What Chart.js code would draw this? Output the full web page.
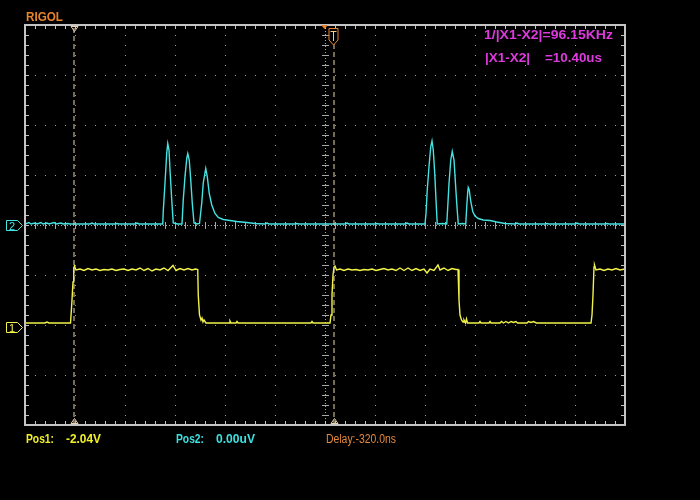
<!DOCTYPE html>
<html>
<head>
<meta charset="utf-8">
<script src="https://cdn.jsdelivr.net/npm/chart.js@4.4.1/dist/chart.umd.min.js"></script>
<style>
  html, body { margin: 0; padding: 0; background: #000; }
  #scope { display: block; }
</style>
</head>
<body>
<canvas id="scope" width="700" height="500"></canvas>
<script>
// horizontal: time in us (2 us/div), vertical: volts (1 V/div)
const timeRange = [-12, 12];
const voltRange = [-4, 4];
const cursorTimes = [-10.04, 0.36];
const triggerTime = 0.32;
const channelOffsets = [-2.04, 0.00];   // CH1, CH2 ground markers

const measureLines = ['1/|X1-X2|=96.15KHz', '|X1-X2|', '=10.40us'];
const statusLabels = ['Pos1:', '-2.04V', 'Pos2:', '0.00uV', 'Delay:-320.0ns'];

// CH1 (yellow) square wave, [time, volts]
const ch1Trace = [
  [-12.00, -1.96], [-11.20, -1.96], [-11.12, -1.94], [-11.04, -1.96], [-10.18, -1.96],
  [-10.15, -1.74], [-10.12, -1.50], [-10.08, -1.14], [-10.05, -0.86], [-10.02, -0.82], [-9.96, -0.90],
  [-9.80, -0.88], [-9.64, -0.91], [-9.48, -0.87], [-9.32, -0.90], [-9.16, -0.88], [-9.00, -0.91],
  [-8.84, -0.89], [-8.68, -0.90], [-8.52, -0.88], [-8.36, -0.91], [-8.20, -0.89], [-8.04, -0.88],
  [-7.88, -0.91], [-7.72, -0.88], [-7.56, -0.90], [-7.40, -0.86], [-7.24, -0.91], [-7.08, -0.87],
  [-6.92, -0.92], [-6.76, -0.88], [-6.60, -0.90], [-6.44, -0.86], [-6.28, -0.91], [-6.08, -0.81],
  [-5.96, -0.91], [-5.80, -0.87], [-5.64, -0.90], [-5.48, -0.87], [-5.32, -0.90], [-5.18, -0.88],
  [-5.09, -0.89], [-5.07, -1.40], [-5.02, -1.80], [-4.96, -1.90], [-4.92, -1.86], [-4.88, -1.94],
  [-4.84, -1.90], [-4.76, -1.96],
  [-3.84, -1.96], [-3.80, -1.92], [-3.76, -1.96], [-3.56, -1.96], [-3.52, -1.93], [-3.48, -1.96],
  [-0.56, -1.96], [-0.52, -1.93], [-0.48, -1.96], [0.20, -1.96],
  [0.24, -1.80], [0.28, -1.40], [0.32, -1.00], [0.36, -0.84], [0.40, -0.82], [0.46, -0.90],
  [0.60, -0.88], [0.76, -0.91], [0.92, -0.88], [1.08, -0.90], [1.24, -0.89], [1.40, -0.91],
  [1.56, -0.89], [1.72, -0.90], [1.88, -0.88], [2.04, -0.91], [2.20, -0.89], [2.36, -0.87],
  [2.52, -0.90], [2.68, -0.88], [2.84, -0.91], [3.00, -0.86], [3.16, -0.91], [3.32, -0.86],
  [3.48, -0.91], [3.64, -0.87], [3.80, -0.91], [3.96, -0.88], [4.08, -0.96], [4.20, -0.88],
  [4.36, -0.91], [4.52, -0.80], [4.60, -0.90], [4.76, -0.86], [4.92, -0.91], [5.08, -0.87],
  [5.24, -0.89], [5.32, -0.89],
  [5.36, -1.50], [5.40, -1.80], [5.46, -1.90], [5.52, -1.94], [5.56, -1.90], [5.62, -1.96],
  [5.66, -1.88], [5.70, -1.96],
  [6.16, -1.96], [6.20, -1.93], [6.24, -1.96], [6.56, -1.96], [6.60, -1.93], [6.64, -1.96],
  [7.00, -1.96], [7.06, -1.93], [7.14, -1.96], [7.24, -1.93], [7.34, -1.96], [7.44, -1.93],
  [7.54, -1.95], [7.64, -1.93], [7.70, -1.96], [8.08, -1.96], [8.14, -1.93], [8.24, -1.95],
  [8.34, -1.93], [8.46, -1.96], [10.64, -1.96],
  [10.68, -1.80], [10.72, -1.40], [10.76, -0.84], [10.78, -0.80], [10.84, -0.90],
  [11.00, -0.88], [11.16, -0.91], [11.32, -0.88], [11.48, -0.90], [11.64, -0.87], [11.80, -0.90],
  [12.00, -0.88]
];

// CH2 (cyan) pulse bursts, [time, volts]
const ch2Trace = [
  [-12.00, 0.02], [-11.84, 0.05], [-11.76, 0.02], [-11.60, 0.04], [-11.52, 0.02], [-11.36, 0.05],
  [-11.28, 0.02], [-11.12, 0.04], [-11.04, 0.02], [-10.84, 0.05], [-10.76, 0.02], [-10.56, 0.04],
  [-10.48, 0.02], [-10.28, 0.03], [-10.20, 0.02], [-9.40, 0.02], [-9.32, 0.04], [-9.24, 0.02],
  [-8.40, 0.02], [-8.32, 0.03], [-8.24, 0.02], [-7.60, 0.02], [-7.52, 0.04], [-7.44, 0.02],
  [-6.49, 0.02],
  [-6.47, 0.27], [-6.40, 0.84], [-6.33, 1.44], [-6.29, 1.63], [-6.24, 1.50], [-6.20, 1.10],
  [-6.13, 0.50], [-6.07, 0.04], [-5.90, 0.02], [-5.72, 0.02],
  [-5.67, 0.50], [-5.60, 0.97], [-5.53, 1.33], [-5.49, 1.43], [-5.43, 1.30], [-5.37, 0.90],
  [-5.31, 0.44], [-5.24, 0.04], [-5.12, 0.02], [-5.02, 0.03],
  [-4.93, 0.44], [-4.87, 0.84], [-4.77, 1.13], [-4.71, 0.97], [-4.63, 0.63], [-4.53, 0.40],
  [-4.40, 0.23], [-4.27, 0.15], [-4.07, 0.11], [-3.80, 0.09], [-3.53, 0.07], [-3.13, 0.05],
  [-2.80, 0.03], [-2.40, 0.02], [-2.32, 0.04], [-2.24, 0.02], [-1.20, 0.02], [-1.12, 0.03],
  [-1.04, 0.02], [0.80, 0.02], [0.88, 0.04], [0.96, 0.02], [2.00, 0.02], [2.08, 0.03],
  [2.16, 0.02], [3.20, 0.02], [3.28, 0.04], [3.36, 0.02], [4.00, 0.02],
  [4.04, 0.23], [4.09, 0.70], [4.16, 1.17], [4.23, 1.57], [4.28, 1.68], [4.33, 1.50],
  [4.39, 1.03], [4.44, 0.50], [4.49, 0.02], [4.70, 0.03], [4.87, 0.02],
  [4.91, 0.37], [4.96, 0.83], [5.03, 1.30], [5.09, 1.47], [5.16, 1.30], [5.21, 0.90],
  [5.27, 0.43], [5.33, 0.02], [5.50, 0.03], [5.63, 0.02],
  [5.67, 0.37], [5.71, 0.67], [5.73, 0.75], [5.77, 0.70], [5.83, 0.47], [5.91, 0.27],
  [6.00, 0.18], [6.13, 0.13], [6.33, 0.10], [6.60, 0.09], [6.87, 0.06], [7.20, 0.03],
  [7.60, 0.02], [7.68, 0.04], [7.76, 0.02], [8.80, 0.02], [8.88, 0.03], [8.96, 0.02],
  [10.00, 0.02], [10.08, 0.04], [10.16, 0.02], [11.20, 0.02], [11.28, 0.03], [11.36, 0.02],
  [12.00, 0.02]
];

const YELLOW = '#f2f24a';
const CYAN = '#45e2e2';
const CURSOR = '#e8d6b0';
const ORANGE = '#e8842c';
const MAGENTA = '#dc3adc';
const FRAME = '#c4c4c4';
const DOTS = '#9c9c9c';

const toPoints = arr => arr.map(p => ({ x: p[0], y: p[1] }));

// stretch/shrink text to the width it has on the scope screen
function fitText(ctx, str, x, baseline, width, font, color) {
  ctx.font = font;
  const w = ctx.measureText(str).width;
  ctx.save();
  ctx.translate(x, baseline);
  ctx.scale(width / w, 1);
  ctx.fillStyle = color;
  ctx.textAlign = 'left';
  ctx.textBaseline = 'alphabetic';
  ctx.fillText(str, 0, 0);
  ctx.restore();
}

const scopeScreen = {
  id: 'scopeScreen',
  beforeDraw(chart) {
    const ctx = chart.ctx;
    ctx.save();
    ctx.fillStyle = '#000';
    ctx.fillRect(0, 0, chart.width, chart.height);
    ctx.restore();
  },
  beforeDatasetsDraw(chart) {
    const { ctx, chartArea: a, scales } = chart;
    const xs = scales.x, ys = scales.y;
    ctx.save();
    ctx.fillStyle = DOTS;
    // dotted graticule, dot every 1/5 division
    for (let t = timeRange[0] + 2; t < timeRange[1]; t += 2) {
      if (t === 0) continue;
      const px = Math.round(xs.getPixelForValue(t));
      for (let y = a.top + 10; y < a.bottom; y += 10) ctx.fillRect(px, y, 1, 1);
    }
    for (let v = voltRange[0] + 1; v < voltRange[1]; v += 1) {
      if (v === 0) continue;
      const py = Math.round(ys.getPixelForValue(v));
      for (let x = a.left + 10; x < a.right; x += 10) ctx.fillRect(x, py, 1, 1);
    }
    // centre axes with minor ticks
    const cx = Math.round(xs.getPixelForValue(0));
    const cy = Math.round(ys.getPixelForValue(0));
    ctx.fillStyle = '#a8a8a8';
    for (let y = a.top; y < a.bottom; y += 3) ctx.fillRect(cx, y, 1, 1);
    for (let x = a.left; x < a.right; x += 3) ctx.fillRect(x, cy, 1, 1);
    for (let y = a.top + 10; y < a.bottom; y += 10) ctx.fillRect(cx - 3, y, 7, 1);
    for (let x = a.left + 10; x < a.right; x += 10) ctx.fillRect(x, cy - 3, 1, 7);
    ctx.restore();
  },
  afterDatasetsDraw(chart) {
    const { ctx, chartArea: a, scales } = chart;
    const xs = scales.x, ys = scales.y;
    ctx.save();
    // frame + border ticks
    ctx.strokeStyle = FRAME;
    ctx.lineWidth = 2;
    ctx.strokeRect(a.left, a.top, a.right - a.left, a.bottom - a.top);
    ctx.fillStyle = FRAME;
    for (let x = a.left + 10; x < a.right; x += 10) {
      ctx.fillRect(x, a.top + 1, 1, 3);
      ctx.fillRect(x, a.bottom - 4, 1, 3);
    }
    for (let y = a.top + 10; y < a.bottom; y += 10) {
      ctx.fillRect(a.left + 1, y, 3, 1);
      ctx.fillRect(a.right - 4, y, 3, 1);
    }

    // cursor markers
    ctx.strokeStyle = CURSOR;
    ctx.lineWidth = 1;
    cursorTimes.forEach((t, i) => {
      const px = Math.round(xs.getPixelForValue(t)) + 0.5;
      if (i === 0) {
        ctx.beginPath();
        ctx.moveTo(px - 3.5, a.top + 1.5);
        ctx.lineTo(px + 3.5, a.top + 1.5);
        ctx.lineTo(px, a.top + 6.5);
        ctx.closePath();
        ctx.stroke();
      }
      ctx.beginPath();
      ctx.moveTo(px - 3.5, a.bottom - 1.5);
      ctx.lineTo(px + 3.5, a.bottom - 1.5);
      ctx.lineTo(px, a.bottom - 6.5);
      ctx.closePath();
      ctx.stroke();
    });

    // memory centre marker + trigger "T" marker
    const mx = xs.getPixelForValue(0);
    ctx.fillStyle = ORANGE;
    ctx.beginPath();
    ctx.moveTo(mx - 4, a.top);
    ctx.lineTo(mx + 3, a.top);
    ctx.lineTo(mx - 0.5, a.top + 4);
    ctx.closePath();
    ctx.fill();

    const tx = Math.round(xs.getPixelForValue(triggerTime)) + 0.5;
    ctx.fillStyle = '#000';
    ctx.strokeStyle = ORANGE;
    ctx.beginPath();
    ctx.moveTo(tx - 4.5, a.top + 3.5);
    ctx.lineTo(tx + 4.5, a.top + 3.5);
    ctx.lineTo(tx + 4.5, a.top + 15);
    ctx.lineTo(tx, a.top + 20);
    ctx.lineTo(tx - 4.5, a.top + 15);
    ctx.closePath();
    ctx.fill();
    ctx.stroke();
    ctx.fillStyle = '#f4c890';
    ctx.fillRect(tx - 3, a.top + 6, 6, 1);
    ctx.fillRect(tx - 0.5, a.top + 6, 1, 10);

    // channel ground markers
    const chColors = [YELLOW, CYAN];
    channelOffsets.forEach((off, i) => {
      const cy = Math.round(ys.getPixelForValue(off)) + 0.5;
      ctx.strokeStyle = chColors[i];
      ctx.lineWidth = 1;
      ctx.beginPath();
      ctx.moveTo(6.5, cy - 5);
      ctx.lineTo(17.5, cy - 5);
      ctx.lineTo(22.5, cy);
      ctx.lineTo(17.5, cy + 5);
      ctx.lineTo(6.5, cy + 5);
      ctx.closePath();
      ctx.stroke();
      ctx.fillStyle = chColors[i];
      ctx.font = '11px "Liberation Sans"';
      ctx.textAlign = 'center';
      ctx.textBaseline = 'alphabetic';
      ctx.fillText(String(i + 1), 12, cy + 4.5);
    });

    // texts
    fitText(ctx, 'RIGOL', 26, 21, 37, 'bold 12px "Liberation Sans"', ORANGE);
    fitText(ctx, measureLines[0], 484, 38.5, 129, 'bold 13px "Liberation Sans"', MAGENTA);
    fitText(ctx, measureLines[1], 485, 61.5, 45, 'bold 13px "Liberation Sans"', MAGENTA);
    fitText(ctx, measureLines[2], 545, 61.5, 57, 'bold 13px "Liberation Sans"', MAGENTA);

    fitText(ctx, statusLabels[0], 26, 443, 28, 'bold 13px "Liberation Sans"', '#f0f028');
    fitText(ctx, statusLabels[1], 66, 443, 35, 'bold 13px "Liberation Sans"', '#f0f028');
    fitText(ctx, statusLabels[2], 176, 443, 28, 'bold 13px "Liberation Sans"', '#3ee0e0');
    fitText(ctx, statusLabels[3], 216, 443, 39, 'bold 13px "Liberation Sans"', '#3ee0e0');
    fitText(ctx, statusLabels[4], 326, 443, 70, '12px "Liberation Sans"', '#e4883c');
    ctx.restore();
  }
};

const cursorSets = cursorTimes.map((t, i) => ({
  label: 'X' + (i + 1),
  data: [{ x: t, y: voltRange[0] }, { x: t, y: voltRange[1] }],
  borderColor: CURSOR,
  borderWidth: 1,
  borderDash: [5, 3],
  pointRadius: 0
}));

new Chart(document.getElementById('scope'), {
  type: 'line',
  data: {
    datasets: [
      ...cursorSets,
      {
        label: 'CH1',
        data: toPoints(ch1Trace),
        borderColor: YELLOW,
        borderWidth: 1.4,
        pointRadius: 0,
        tension: 0
      },
      {
        label: 'CH2',
        data: toPoints(ch2Trace),
        borderColor: CYAN,
        borderWidth: 1.4,
        pointRadius: 0,
        tension: 0
      }
    ]
  },
  options: {
    responsive: false,
    animation: false,
    devicePixelRatio: 1,
    events: [],
    layout: { padding: { left: 25, top: 25, right: 75, bottom: 75 } },
    scales: {
      x: { type: 'linear', display: false, min: timeRange[0], max: timeRange[1] },
      y: { type: 'linear', display: false, min: voltRange[0], max: voltRange[1] }
    },
    plugins: {
      legend: { display: false },
      tooltip: { enabled: false }
    }
  },
  plugins: [scopeScreen]
});
</script>
</body>
</html>
